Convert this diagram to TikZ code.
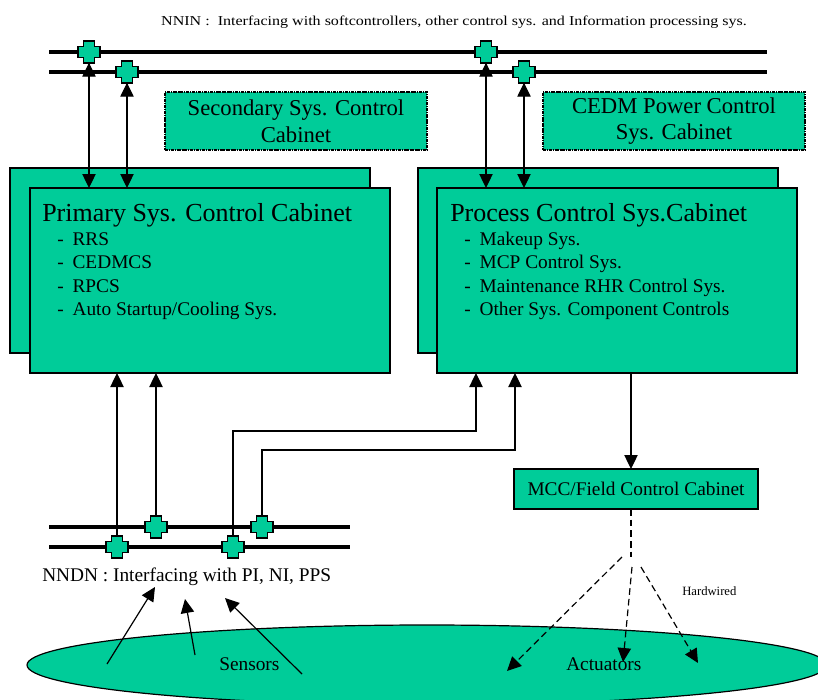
\documentclass[tikz,border=0pt]{standalone}
\usepackage{fontspec}
\setmainfont{Liberation Serif}
\usetikzlibrary{arrows.meta}
\definecolor{cab}{HTML}{00CC99}
\begin{document}
\begin{tikzpicture}[x=0.75pt,y=-0.75pt,
  bus/.style={line width=2.3pt},
  link/.style={line width=0.9pt},
  tip/.style={-{Triangle[length=10.5pt,width=10pt]}},
  tips/.style={{Triangle[length=10.5pt,width=10pt]}-{Triangle[length=10.5pt,width=10pt]}},
  cabinet/.style={draw, line width=1pt, fill=cab, minimum width=270pt, minimum height=138.75pt, outer sep=0pt, inner sep=0pt, anchor=north west},
  subcab/.style={draw, line width=0.9pt, fill=cab, dash pattern=on 2.5pt off 0.7pt on 0.7pt off 0.7pt, minimum width=196.5pt, minimum height=43.5pt, outer sep=0pt, inner sep=0pt, align=center, font=\fontsize{17}{20}\selectfont},
  joint/.style={minimum size=16pt, inner sep=0pt, outer sep=0pt},
  titletext/.style={anchor=base west, inner sep=0pt, font=\fontsize{19.5}{23}\selectfont},
  itemtext/.style={anchor=base west, inner sep=0pt, font=\fontsize{14.5}{17}\selectfont},
  plusshape/.pic={\filldraw[fill=cab, line width=1pt] (-11,-5.5) -- (-5.5,-5.5) -- (-5.5,-11) -- (5.5,-11) -- (5.5,-5.5) -- (11,-5.5) -- (11,5.5) -- (5.5,5.5) -- (5.5,11) -- (-5.5,11) -- (-5.5,5.5) -- (-11,5.5) -- cycle;}
]
\useasboundingbox (0,0) rectangle (818,700);
\clip (0,0) rectangle (818,700);

% field ellipse
\draw[fill=cab, line width=0.9pt] (427,665) ellipse [x radius=300pt, y radius=30pt];
\node[itemtext] (sens) at (219,670) {Sensors};
\node[itemtext] (act) at (566,670) {Actuators};

% top title
\node[anchor=base, inner sep=0pt] (nnin) at (454,25) {\scalebox{1.18}[1]{\fontsize{10.2}{12}\selectfont NNIN :\ \ Interfacing with softcontrollers, other control sys. and Information processing sys.}};

% NNIN bus
\coordinate (nl1) at (49,52); \coordinate (nr1) at (767,52);
\coordinate (nl2) at (49,72); \coordinate (nr2) at (767,72);
\draw[bus] (nl1) -- (nr1);
\draw[bus] (nl2) -- (nr2);

% NNDN bus
\coordinate (dl1) at (49,527); \coordinate (dr1) at (350,527);
\coordinate (dl2) at (49,547); \coordinate (dr2) at (350,547);
\draw[bus] (dl1) -- (dr1);
\draw[bus] (dl2) -- (dr2);
\node[itemtext] (nndn) at (42,581) {NNDN : Interfacing with PI, NI, PPS};

% secondary cabinets
\node[subcab] (sec) at (296,121) {Secondary Sys. Control\\Cabinet};
\node[subcab] (cedm) at (674,121) {CEDM Power Control\\Sys. Cabinet};

% cabinets
\node[cabinet] (primB) at (10,168) {};
\node[cabinet] (primF) at (30,188) {};
\node[cabinet] (procB) at (418,168) {};
\node[cabinet] (procF) at (437,188) {};

\node[titletext] (primT) at (42,221) {Primary Sys. Control Cabinet};
\foreach \t [count=\i] in {RRS, CEDMCS, RPCS, Auto Startup/Cooling Sys.}
  \node[itemtext] (primI\i) at (57,221.5+23.5*\i) {\makebox[11.5pt][l]{-}\t};
\node[titletext] (procT) at (450,221) {Process Control Sys.Cabinet};
\foreach \t [count=\i] in {Makeup Sys., MCP Control Sys., Maintenance RHR Control Sys., Other Sys. Component Controls}
  \node[itemtext] (procI\i) at (464,221.5+23.5*\i) {\makebox[11.5pt][l]{-}\t};

% MCC
\node[draw, line width=0.9pt, fill=cab, minimum width=183pt, minimum height=30pt, outer sep=0pt, inner sep=0pt, font=\fontsize{14.5}{17}\selectfont] (mcc) at (636,489) {MCC/Field Control Cabinet};

% joints
\foreach \n/\p in {c1/{89,52}, c2/{127,72}, c3/{486,52}, c4/{524,72}, c5/{117,547}, c6/{156,527}, c7/{233,547}, c8/{262,527}}
  \node[joint] (\n) at (\p) {};

% NNIN links
\draw[link, tips] (c1.south) -- (c1.south |- primF.north);
\draw[link, tips] (c2.south) -- (c2.south |- primF.north);
\draw[link, tips] (c3.south) -- (c3.south |- procF.north);
\draw[link, tips] (c4.south) -- (c4.south |- procF.north);

% NNDN links
\draw[link, tip] (c5.north) -- (c5.north |- primF.south);
\draw[link, tip] (c6.north) -- (c6.north |- primF.south);
\coordinate (b1) at (476,431);
\coordinate (b2) at (515,450);
\draw[link, tip] (c7.north) -- (c7.north |- b1) -- (b1) -- (b1 |- procF.south);
\draw[link, tip] (c8.north) -- (c8.north |- b2) -- (b2) -- (b2 |- procF.south);

% joint crosses on top
\foreach \p in {{89,52}, {127,72}, {486,52}, {524,72}, {117,547}, {156,527}, {233,547}, {262,527}}
  \pic at (\p) {plusshape};

% MCC feed
\coordinate (mccin) at (631,469);
\draw[link, tip] (mccin |- procF.south) -- (mccin);

% hardwired
\coordinate (hw) at (631,557);
\draw[link, dash pattern=on 5pt off 3pt] (mccin |- mcc.south) -- (hw);
\coordinate (h1s) at (622,557); \coordinate (h1e) at (507,671);
\coordinate (h2s) at (632,567); \coordinate (h2e) at (623,662);
\coordinate (h3s) at (641,567); \coordinate (h3e) at (698,663);
\draw[link, dash pattern=on 5pt off 3pt, tip] (h1s) -- (h1e);
\draw[link, dash pattern=on 5pt off 3pt, tip] (h2s) -- (h2e);
\draw[link, dash pattern=on 5pt off 3pt, tip] (h3s) -- (h3e);
\node[anchor=base west, inner sep=0pt, font=\fontsize{9.5}{11}\selectfont] (hwl) at (682,595) {Hardwired};

% sensor arrows
\coordinate (s1s) at (107,664); \coordinate (s1e) at (155,587);
\coordinate (s2s) at (195,655); \coordinate (s2e) at (185,599);
\coordinate (s3s) at (302,674); \coordinate (s3e) at (225,598);
\draw[link, tip] (s1s) -- (s1e);
\draw[link, tip] (s2s) -- (s2e);
\draw[link, tip] (s3s) -- (s3e);
\end{tikzpicture}
\end{document}
